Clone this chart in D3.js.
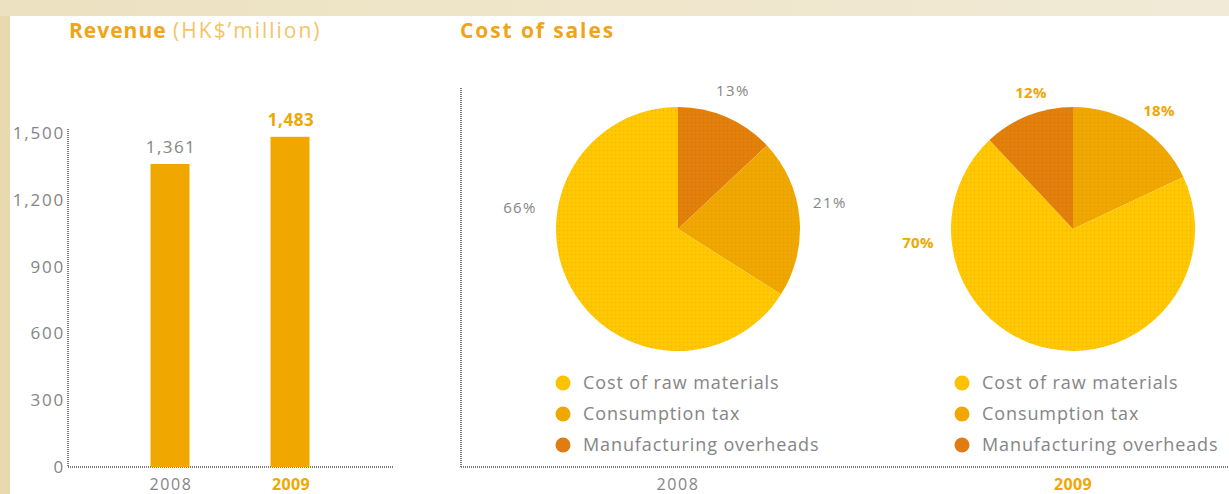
<!DOCTYPE html>
<html>
<head>
<meta charset="utf-8">
<script src="https://cdn.jsdelivr.net/npm/d3@7"></script>
<style>
  html, body { margin: 0; padding: 0; background: #efe6cc; }
  svg { display: block; font-family: "Open Sans", "DejaVu Sans", sans-serif; }
</style>
</head>
<body>
<div id="chart"></div>
<script>
// revenue data
const years = ["2008", "2009"];
const revenue = [1361, 1483];
const revenueTicks = [0, 300, 600, 900, 1200, 1500];

// cost of sales data (order = drawing order, clockwise from 12 o'clock)
const costCategories = ["Cost of raw materials", "Consumption tax", "Manufacturing overheads"];
const cost2008 = [{k: "Manufacturing overheads", v: 13}, {k: "Consumption tax", v: 21}, {k: "Cost of raw materials", v: 66}];
const cost2009 = [{k: "Consumption tax", v: 18}, {k: "Cost of raw materials", v: 70}, {k: "Manufacturing overheads", v: 12}];

const W = 1229, H = 494;
const orange = "#f0a700";
const gray = "#858585";
const axisColor = "#7c7c7c";

const svg = d3.select("#chart").append("svg")
    .attr("width", W)
    .attr("height", H);

// background
let defs = svg.append("defs");
let bg = defs.append("linearGradient").attr("id", "bgTop");
bg.append("stop").attr("offset", "0%").attr("stop-color", "#ece1c0");
bg.append("stop").attr("offset", "100%").attr("stop-color", "#f1ead6");
svg.append("rect").attr("width", W).attr("height", H).attr("fill", "#e9d9ae");
svg.append("rect").attr("x", 0).attr("width", W).attr("height", 16).attr("fill", "url(#bgTop)");
svg.append("rect").attr("x", 10).attr("y", 16).attr("width", W - 10).attr("height", H - 16).attr("fill", "#fff");

// dotted textures for pie slices
function makePattern(id, base, dot) {
    let p = defs.append("pattern").attr("id", id)
        .attr("width", 4).attr("height", 4).attr("patternUnits", "userSpaceOnUse");
    p.append("rect").attr("width", 4).attr("height", 4).attr("fill", base);
    p.append("rect").attr("x", 1).attr("y", 1).attr("width", 1.2).attr("height", 1.2).attr("fill", dot);
}
makePattern("pRaw", "#ffc800", "#f2ae18");
makePattern("pTax", "#f0a800", "#e39a10");
makePattern("pMfg", "#e2800a", "#d27418");
const fills = {
    "Cost of raw materials": "url(#pRaw)",
    "Consumption tax": "url(#pTax)",
    "Manufacturing overheads": "url(#pMfg)"
};
const legendFills = {
    "Cost of raw materials": "#fcc200",
    "Consumption tax": "#f0a800",
    "Manufacturing overheads": "#e07c12"
};

function dottedLine(x1, y1, x2, y2) {
    svg.append("line")
        .attr("x1", x1).attr("x2", x2).attr("y1", y1).attr("y2", y2)
        .attr("stroke", axisColor).attr("stroke-width", 2).attr("stroke-dasharray", "1,1");
}

// ---------- Revenue bar chart ----------
const axisX0 = 68, axisY0 = 467, axisTop = 133, axisRight = 393;

let x = d3.scalePoint().domain(years).range([170, 290]);
let y = d3.scaleLinear().domain([0, 1500]).range([axisY0, axisTop]);

let title = svg.append("text").attr("x", 69).attr("y", 38).attr("font-size", 21);
title.append("tspan").attr("font-weight", "bold").attr("fill", "#f0a418").attr("letter-spacing", 1).text("Revenue ");
title.append("tspan").attr("fill", "#f5c565").attr("letter-spacing", 2).text("(HK$\u2019million)");

dottedLine(axisX0, axisTop - 4, axisX0, axisY0);
dottedLine(axisX0, axisY0, axisRight, axisY0);

let barG = svg.append("g");
barG.selectAll(".tick").data(revenueTicks).enter().append("text")
    .attr("x", axisX0 - 3)
    .attr("y", d => y(d) + 6)
    .attr("text-anchor", "end")
    .attr("font-size", 17)
    .attr("letter-spacing", 1.8)
    .attr("fill", gray)
    .text(d => d3.format(",")(d));

const barW = 39;
barG.selectAll(".bar").data(revenue).enter().append("rect")
    .attr("x", (d, i) => x(years[i]) - barW / 2)
    .attr("y", d => y(d))
    .attr("width", barW)
    .attr("height", d => axisY0 - y(d))
    .attr("fill", orange);

barG.selectAll(".val").data(revenue).enter().append("text")
    .attr("x", (d, i) => x(years[i]) + 1)
    .attr("y", d => y(d) - 11)
    .attr("text-anchor", "middle")
    .attr("font-size", 17)
    .attr("letter-spacing", (d, i) => i === 1 ? 0.6 : 1.4)
    .attr("font-weight", (d, i) => i === 1 ? "bold" : "normal")
    .attr("fill", (d, i) => i === 1 ? orange : gray)
    .text(d => d3.format(",")(d));

barG.selectAll(".year").data(years).enter().append("text")
    .attr("x", d => x(d) + 1)
    .attr("y", 490)
    .attr("text-anchor", "middle")
    .attr("font-size", 16)
    .attr("letter-spacing", (d, i) => i === 1 ? 0.4 : 1.6)
    .attr("font-weight", (d, i) => i === 1 ? "bold" : "normal")
    .attr("fill", (d, i) => i === 1 ? orange : gray)
    .text(d => d);

// ---------- Cost of sales pies ----------
svg.append("text").attr("x", 460).attr("y", 38)
    .attr("font-size", 21).attr("font-weight", "bold").attr("fill", "#f0a418")
    .attr("letter-spacing", 1.9)
    .text("Cost of sales");

const pAxisX = 461, pAxisTop = 88;
dottedLine(pAxisX, pAxisTop, pAxisX, axisY0);
dottedLine(pAxisX, axisY0, W, axisY0);

const pie = d3.pie().sort(null).value(d => d.v);
const radius = 122;
const arc = d3.arc().innerRadius(0).outerRadius(radius);

function drawPie(data, cx, cy, highlight, labelPos, legendX, year) {
    let g = svg.append("g").attr("transform", "translate(" + cx + "," + cy + ")");
    let arcs = pie(data);
    g.selectAll("path").data(arcs).enter().append("path")
        .attr("d", arc)
        .attr("fill", d => fills[d.data.k]);

    g.selectAll(".lbl").data(arcs).enter().append("text")
        .attr("x", (d, i) => labelPos[i][0])
        .attr("y", (d, i) => labelPos[i][1])
        .attr("text-anchor", "middle")
        .attr("font-size", 15)
        .attr("letter-spacing", highlight ? 0.3 : 1.4)
        .attr("font-weight", highlight ? "bold" : "normal")
        .attr("fill", highlight ? orange : gray)
        .text(d => d.data.v + "%");

    let leg = svg.append("g").selectAll("g").data(costCategories).enter().append("g")
        .attr("transform", (d, i) => "translate(" + legendX + "," + (383 + i * 31) + ")");
    leg.append("circle").attr("r", 7.5).attr("fill", d => legendFills[d]);
    leg.append("text").attr("x", 20).attr("y", 6)
        .attr("font-size", 18).attr("fill", gray)
        .attr("letter-spacing", 0.9)
        .text(d => d);

    svg.append("text").attr("x", cx).attr("y", 490)
        .attr("text-anchor", "middle")
        .attr("font-size", 16)
        .attr("letter-spacing", highlight ? 0.4 : 1.6)
        .attr("font-weight", highlight ? "bold" : "normal")
        .attr("fill", highlight ? orange : gray)
        .text(year);
}

// label offsets relative to pie centres
drawPie(cost2008, 678, 229, false, [[55, -133], [152, -21], [-158, -16]], 563, "2008");
drawPie(cost2009, 1073, 229, true, [[86, -113], [-155, 19], [-42, -131]], 962, "2009");
</script>
</body>
</html>
